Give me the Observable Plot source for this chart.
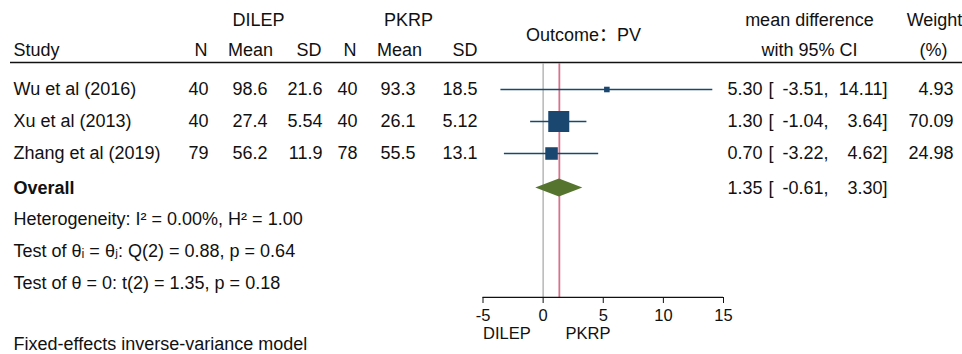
<!DOCTYPE html>
<html><head><meta charset="utf-8">
<script src="https://cdn.jsdelivr.net/npm/d3@7"></script>
<script src="https://cdn.jsdelivr.net/npm/@observablehq/plot@0.6"></script>
<style>
html,body{margin:0;padding:0;background:#fff;}
</style></head><body><div id="chart"></div>
<script>
// ---- data ----
const studies = ["Wu et al (2016)", "Xu et al (2013)", "Zhang et al (2019)"];
const dilepN = [40, 40, 79];
const dilepMean = [98.6, 27.4, 56.2];
const dilepSD = [21.6, 5.54, 11.9];
const pkrpN = [40, 40, 78];
const pkrpMean = [93.3, 26.1, 55.5];
const pkrpSD = [18.5, 5.12, 13.1];
const effect = [5.30, 1.30, 0.70];
const ciLow = [-3.51, -1.04, -3.22];
const ciHigh = [14.11, 3.64, 4.62];
const weight = [4.93, 70.09, 24.98];
const overallLabel = "Overall";
const overallEffect = [1.35];
const overallLow = [-0.61];
const overallHigh = [3.30];
const statKeys = ["het", "q", "t"];
const statText = [
  "Heterogeneity: I\u00B2 = 0.00%, H\u00B2 = 1.00",
  "Test of \u03B8\u1D62 = \u03B8\u2C7C: Q(2) = 0.88, p = 0.64",
  "Test of \u03B8 = 0: t(2) = 1.35, p = 0.18"
];
const xTicks = [-5, 0, 5, 10, 15];
const groupLabels = ["DILEP", "PKRP"];
const outcomeTitle = "Outcome\uFF1APV";
const footerText = "Fixed-effects inverse-variance model";

// ---- table built from arrays ----
const rows = studies.map((s, i) => ({
  study: s, n1: dilepN[i], m1: dilepMean[i], sd1: dilepSD[i],
  n2: pkrpN[i], m2: pkrpMean[i], sd2: pkrpSD[i],
  est: effect[i], lo: ciLow[i], hi: ciHigh[i], w: weight[i]
}));
const overall = [{study: overallLabel, est: overallEffect[0], lo: overallLow[0], hi: overallHigh[0]}];
const stats = statKeys.map((k, i) => ({study: k, text: statText[i]}));

// ---- styles ----
const ink = "#111";
const navy = "#1a476f";
const green = "#55752f";
const pink = "#d9718c";
const grey = "#ababab";
const FS = 18;
const ML = 482.5, MR = 239, MT = 63, MB = 57, W = 962, H = 354;
const col = px => px - ML;
const f2 = v => v.toFixed(2);
const g3 = v => d3.format(".3g")(v);

function colText(data, text, px, anchor, extra = {}) {
  return Plot.text(data, {y: "study", text, frameAnchor: "left", dx: col(px),
    textAnchor: anchor, lineAnchor: "middle", fontSize: FS, fill: ink, ...extra});
}
function head(label, px, anchor, dy, extra = {}) {
  return Plot.text([label], {frameAnchor: "top-left", dx: col(px), dy,
    textAnchor: anchor, lineAnchor: "middle", fontSize: FS, fill: ink, ...extra});
}
function ciMarks(data, extra = {}) {
  return [
    colText(data, d => f2(d.est), 762, "end", extra),
    colText(data, () => "[", 768, "start", extra),
    colText(data, d => f2(d.lo) + ",", 828, "end", extra),
    colText(data, d => f2(d.hi) + "]", 887, "end", extra)
  ];
}

const H1 = 20 - MT, H2 = 49.5 - MT;

const chart = Plot.plot({
  width: W, height: H,
  marginLeft: ML, marginRight: MR, marginTop: MT, marginBottom: MB,
  style: {fontFamily: "'Liberation Sans', Arial, Helvetica, 'DejaVu Sans', 'Noto Sans CJK SC', sans-serif", fontSize: FS + "px", background: "#fff", color: ink},
  x: {domain: [-5, 15]},
  y: {type: "point", domain: [...studies, overallLabel, ...statKeys], range: [88.5, 281.5], padding: 0, axis: null},
  r: {type: "sqrt", domain: [0, d3.max(weight)], range: [0, 11.85]},
  marks: [
    // header rule
    (index, scales, values, dim) => d3.create("svg:line")
      .attr("x1", 10).attr("x2", dim.width).attr("y1", 62.5).attr("y2", 62.5)
      .attr("stroke", ink).attr("stroke-width", 1.4).node(),
    // headers
    head(groupLabels[0], 258, "middle", H1),
    head(groupLabels[1], 408, "middle", H1),
    head("Study", 13, "start", H2),
    head("N", 207, "end", H2),
    head("Mean", 250, "middle", H2),
    head("SD", 321, "end", H2),
    head("N", 356, "end", H2),
    head("Mean", 399, "middle", H2),
    head("SD", 477, "end", H2),
    head(outcomeTitle, 583, "middle", 34.5 - MT),
    head("mean difference", 809, "middle", H1),
    head("with 95% CI", 809, "middle", H2),
    head("Weight", 934, "middle", H1),
    head("(%)", 933, "middle", H2),
    // reference lines
    Plot.ruleX([0], {stroke: grey, strokeWidth: 1.3}),
    Plot.ruleX(overallEffect, {stroke: pink, strokeWidth: 1.8}),
    // study CIs and squares
    Plot.ruleY(rows, {y: "study", x1: "lo", x2: "hi", stroke: navy, strokeWidth: 1.5}),
    Plot.dot(rows, {x: "est", y: "study", r: "w", symbol: "square", fill: navy, stroke: null}),
    // overall diamond
    (index, scales) => {
      const o = overall[0];
      const cy = scales.y(o.study) + 2.5;
      const pts = [[scales.x(o.lo), cy], [scales.x(o.est), cy - 9], [scales.x(o.hi), cy], [scales.x(o.est), cy + 9]];
      return d3.create("svg:polygon").attr("points", pts.map(p => p.join(",")).join(" "))
        .attr("fill", green).node();
    },
    // study table text
    colText(rows, "study", 13, "start"),
    colText(rows, d => String(d.n1), 208, "end"),
    colText(rows, d => g3(d.m1), 267, "end"),
    colText(rows, d => g3(d.sd1), 322, "end"),
    colText(rows, d => String(d.n2), 357, "end"),
    colText(rows, d => g3(d.m2), 415, "end"),
    colText(rows, d => g3(d.sd2), 477, "end"),
    ...ciMarks(rows),
    colText(rows, d => f2(d.w), 953, "end"),
    // overall
    colText(overall, "study", 13, "start", {fontWeight: "bold", dy: 2.5}),
    ...ciMarks(overall, {dy: 2.5}),
    // stats
    colText(stats, "text", 13, "start", {dy: 1.5}),
    // axis
    (index, scales, values, dim) => d3.create("svg:line")
      .attr("x1", scales.x(-5)).attr("x2", scales.x(15))
      .attr("y1", dim.height - dim.marginBottom + 0.3).attr("y2", dim.height - dim.marginBottom + 0.3)
      .attr("stroke", ink).attr("stroke-width", 1.2).node(),
    Plot.axisX({ticks: xTicks, tickFormat: d => String(d), tickSize: 6, tickPadding: 5.5,
      fontSize: 16.5, label: null, stroke: ink, fill: ink}),
    Plot.text([groupLabels[0]], {frameAnchor: "bottom-left", dx: 0, dy: 36.5, textAnchor: "start", lineAnchor: "middle", fontSize: 16.5, fill: ink}),
    Plot.text([groupLabels[1]], {frameAnchor: "bottom-left", dx: 82.5, dy: 36.5, textAnchor: "start", lineAnchor: "middle", fontSize: 16.5, fill: ink}),
    // footer
    Plot.text([footerText], {frameAnchor: "bottom-left", dx: col(13), dy: 46.5, textAnchor: "start", lineAnchor: "middle", fontSize: FS, fill: ink})
  ]
});
document.getElementById("chart").appendChild(chart);
</script>
</body></html>
